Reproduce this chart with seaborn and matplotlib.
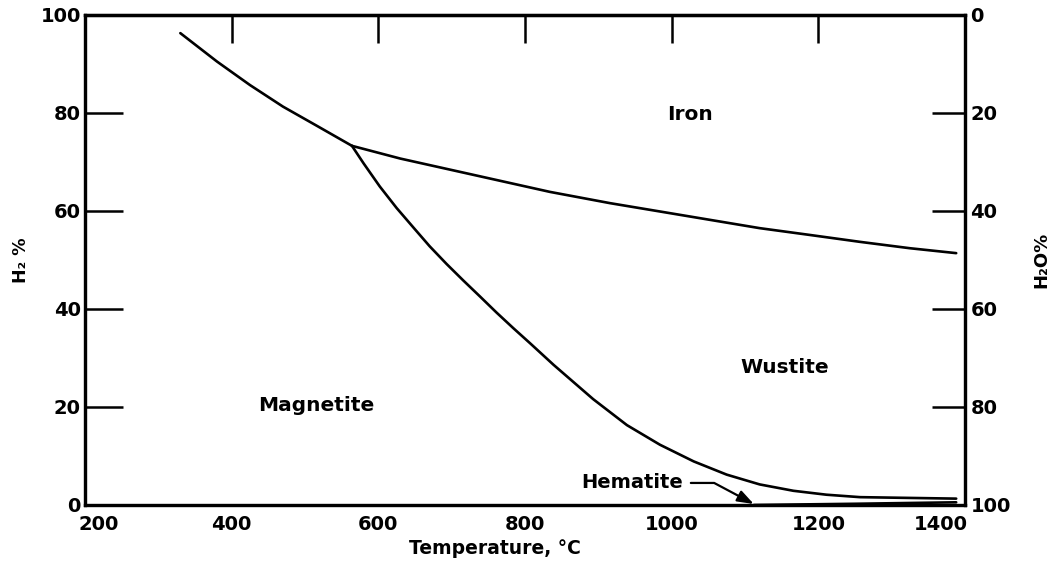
import matplotlib
matplotlib.use("Agg")
import matplotlib.pyplot as plt
import matplotlib.transforms as mtransforms
import seaborn as sns
import pandas as pd

# Phase boundaries of the Fe-O-H system, temperature (deg C) vs H2 content (%)
temp_iron_magnetite = [330, 380, 425, 470, 516, 564]
h2_iron_magnetite = [96.3, 90.5, 85.7, 81.3, 77.4, 73.3]

temp_iron_wustite = [564, 630, 720, 834, 916, 984, 1052, 1120, 1189, 1257, 1325, 1388]
h2_iron_wustite = [73.3, 70.7, 67.7, 63.9, 61.6, 59.9, 58.2, 56.5, 55.1, 53.7, 52.4, 51.4]

temp_wustite_magnetite = [564, 580, 602, 625, 648, 670, 693, 716, 739, 761, 784, 807,
                          839, 893, 939, 984, 1030, 1075, 1120, 1166, 1211, 1257, 1388]
h2_wustite_magnetite = [73.3, 69.7, 65.0, 60.6, 56.6, 52.8, 49.2, 45.8, 42.5, 39.3, 36.1, 33.0,
                        28.6, 21.6, 16.3, 12.3, 8.9, 6.2, 4.2, 2.9, 2.1, 1.6, 1.3]

temp_hematite = [1112, 1250, 1388]
h2_hematite = [0.0, 0.25, 0.55]

x_ticks = [200, 400, 600, 800, 1000, 1200, 1400]
h2_ticks = [0, 20, 40, 60, 80, 100]
h2o_ticks = [0, 20, 40, 60, 80, 100]

regions = ["Iron", "Wustite", "Magnetite"]
region_temp = [1025, 1154, 515]
region_h2 = [79.6, 28.0, 20.4]

sns.set_theme(style="white")
plt.rcParams["font.family"] = ["DejaVu Sans"]
plt.rcParams["font.weight"] = "bold"

fig = plt.figure(figsize=(10.54, 5.66), dpi=100)
ax = fig.add_axes([85 / 1054, 1 - 505 / 566, 880 / 1054, 490 / 566])

curves = [
    (temp_iron_magnetite, h2_iron_magnetite),
    (temp_iron_wustite, h2_iron_wustite),
    (temp_wustite_magnetite, h2_wustite_magnetite),
    (temp_hematite, h2_hematite),
]
for t, h in curves:
    df = pd.DataFrame({"T": t, "H2": h})
    sns.lineplot(data=df, x="T", y="H2", ax=ax, color="black", lw=1.9,
                 sort=False, estimator=None)

ax.set_xlim(200, 1400)
ax.set_ylim(0, 100)
ax.set_xticks(x_ticks)
ax.set_yticks(h2_ticks)
ax.set_xticklabels([str(v) for v in x_ticks], fontsize=14, fontweight="bold")
ax.set_yticklabels([str(v) for v in h2_ticks], fontsize=14, fontweight="bold")
ax.tick_params(axis="x", direction="in", length=14, width=1.8, pad=7,
               color="black", labelcolor="black")
ax.tick_params(axis="y", direction="in", length=27, width=1.8, pad=3,
               color="black", labelcolor="black")
for s in ax.spines.values():
    s.set_visible(True)
    s.set_color("black")
    s.set_linewidth(2.3)

# end labels of the temperature axis sit inside the frame corners
xlabels = ax.get_xticklabels()
xlabels[0].set_horizontalalignment("left")
xlabels[0].set_transform(xlabels[0].get_transform() +
                         mtransforms.ScaledTranslation(-7 / 100, 0, fig.dpi_scale_trans))
xlabels[-1].set_horizontalalignment("right")
xlabels[-1].set_transform(xlabels[-1].get_transform() +
                          mtransforms.ScaledTranslation(3 / 100, 0, fig.dpi_scale_trans))

# top ticks without labels
top = ax.secondary_xaxis("top")
top.set_xticks(x_ticks)
top.tick_params(direction="in", length=20, width=1.8, labeltop=False, color="black")
top.spines["top"].set_linewidth(2.3)

# right axis: H2O %, inverted
ax2 = ax.twinx()
ax2.set_ylim(100, 0)
ax2.set_yticks(h2o_ticks)
ax2.set_yticklabels([str(v) for v in h2o_ticks], fontsize=14, fontweight="bold")
ax2.tick_params(axis="y", direction="in", length=24, width=1.8, pad=4,
                color="black", labelcolor="black")
ax2.grid(False)
for s in ax2.spines.values():
    s.set_color("black")
    s.set_linewidth(2.3)

ax.set_xlabel("Temperature, °C", fontsize=13.5, fontweight="bold", color="black")
ax.xaxis.set_label_coords(0.466, -0.07)
ax.set_ylabel("H₂ %", fontsize=12.5, fontweight="bold", color="black")
ax.yaxis.set_label_coords(-0.062, 0.5)
ax2.set_ylabel("H₂O%", fontsize=13, fontweight="bold", color="black", rotation=90)
ax2.yaxis.set_label_coords(1.076, 0.5)
ax2.yaxis.label.set_verticalalignment("top")

for name, t, h in zip(regions, region_temp, region_h2):
    ax.text(t, h, name, fontsize=14.5, fontweight="bold", ha="center", va="center",
            color="black")

ax.annotate("Hematite", xy=(1112, 0.2), xytext=(1016, 4.5),
            fontsize=14, fontweight="bold", ha="right", va="center", color="black",
            arrowprops=dict(arrowstyle="-|>,head_length=0.7,head_width=0.25",
                            connectionstyle="angle,angleA=0,angleB=-28,rad=0",
                            color="black", lw=1.6, shrinkA=3, shrinkB=0,
                            relpos=(1, 0.5)))

fig.savefig("out.png", dpi=100, facecolor="white")
